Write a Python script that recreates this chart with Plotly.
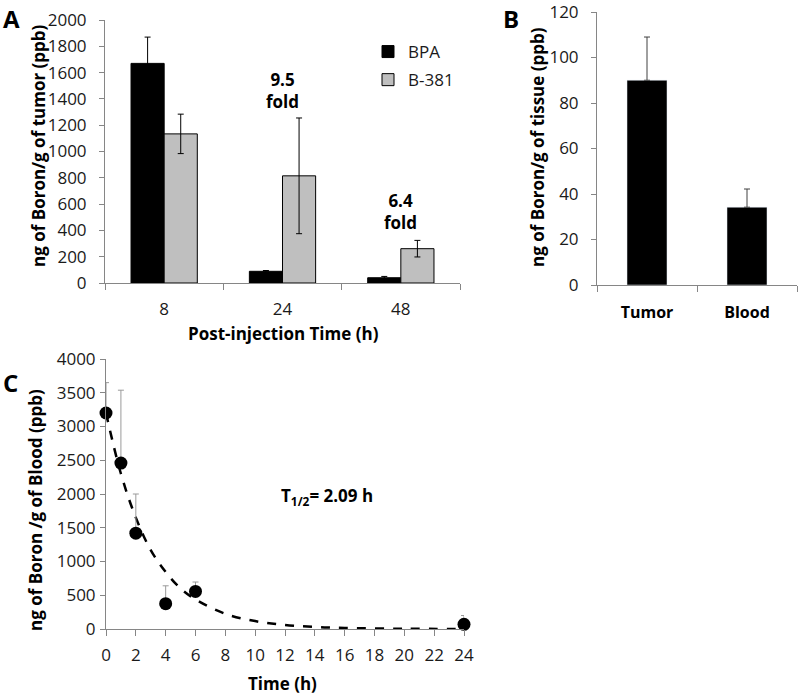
import plotly.graph_objects as go

# ---- Panel A data ----
a_times = ["8", "24", "48"]
a_bpa = [1670, 89, 40]
a_bpa_err = [200, 6, 10]
a_b381 = [1134, 815, 261]
a_b381_err = [150, 440, 63]
a_fold_labels = ["9.5<br>fold", "6.4<br>fold"]
a_fold_x = ["24", "48"]
a_fold_y = [1467, 540]

# ---- Panel B data ----
b_tissues = ["Tumor", "Blood"]
b_values = [90, 34.2]
b_err = [19, 8]

# ---- Panel C data ----
c_time = [0, 1, 2, 4, 6, 24]
c_values = [3200, 2458, 1420, 375, 556, 70]
c_err = [450, 1080, 580, 265, 140, 130]
fit_time = [0, 1, 2, 3, 4, 5, 6, 8, 10, 12, 14, 16, 20, 24]
fit_values = [3200, 2300, 1650, 1170, 845, 600, 438, 225, 117, 60, 30, 15, 4, 1]

FONT = "Open Sans"
AXC = "#868686"
W, H = 800, 694

def px_x(a, b):
    return [a / W, b / W]

def px_y(top, bottom):
    return [1 - bottom / H, 1 - top / H]

fig = go.Figure()

# Panel A bars
fig.add_trace(go.Bar(
    x=a_times, y=a_bpa, name="BPA", legendgroup="bpa",
    marker=dict(color="black", line=dict(color="black", width=1)),
    error_y=dict(type="data", array=a_bpa_err, color="black", thickness=1, width=3),
    xaxis="x", yaxis="y"))
fig.add_trace(go.Bar(
    x=a_times, y=a_b381, name="B-381", legendgroup="b381",
    marker=dict(color="#bfbfbf", line=dict(color="black", width=1)),
    error_y=dict(type="data", array=a_b381_err, color="black", thickness=1, width=3),
    xaxis="x", yaxis="y"))

# Panel B bars
fig.add_trace(go.Bar(
    x=b_tissues, y=b_values, showlegend=False, marker=dict(color="black"),
    error_y=dict(type="data", array=b_err, arrayminus=[0, 0], symmetric=False,
                 color="#404040", thickness=1, width=3),
    xaxis="x2", yaxis="y2", width=0.4))

# Panel C
fig.add_trace(go.Scatter(
    x=fit_time, y=fit_values, mode="lines", line=dict(color="black", width=2.5, dash="dash", shape="spline"),
    showlegend=False, xaxis="x3", yaxis="y3"))
fig.add_trace(go.Scatter(
    x=c_time, y=c_values, mode="markers", marker=dict(color="black", size=13),
    error_y=dict(type="data", array=c_err, arrayminus=[0] * len(c_err), symmetric=False,
                 color="#9a9a9a", thickness=1, width=3),
    showlegend=False, cliponaxis=False, xaxis="x3", yaxis="y3"))

tickfont = dict(family=FONT, size=17, color="#1a1a1a")
titlefont = dict(family=FONT, size=17, color="black", weight="bold")
notefont = dict(family=FONT, size=17, color="black", weight="bold")

common_y = dict(showline=True, linecolor=AXC, linewidth=1, ticks="outside", tickcolor=AXC, ticklen=5,
                showgrid=False, zeroline=False, tickfont=tickfont, automargin=False,
                ticklabeloverflow="allow")
common_x = dict(showline=True, linecolor=AXC, linewidth=1, ticks="outside", tickcolor=AXC, ticklen=6,
                showgrid=False, zeroline=False, automargin=False, ticklabeloverflow="allow")

fig.update_layout(
    width=W, height=H,
    margin=dict(l=0, r=0, t=0, b=0, pad=0, autoexpand=False),
    paper_bgcolor="white", plot_bgcolor="white",
    barmode="group", bargap=0.44, bargroupgap=0,
    font=dict(family=FONT),
    xaxis=dict(domain=px_x(105, 460), anchor="y", type="category", categoryorder="array",
               categoryarray=a_times, range=[-0.5, len(a_times) - 0.5], tickson="boundaries",
               tickfont=tickfont, ticklabelstandoff=11, **common_x),
    yaxis=dict(domain=px_y(20, 283), anchor="x", range=[0, 2000], dtick=200,
               ticklabelstandoff=9, **common_y),
    xaxis2=dict(domain=px_x(597, 797), anchor="y2", type="category", tickson="boundaries",
                range=[-0.5, len(b_tissues) - 0.5], ticklabelstandoff=13,
                tickfont=dict(family=FONT, size=16, color="black", weight="bold"), **common_x),
    yaxis2=dict(domain=px_y(12, 285), anchor="x2", range=[0, 120.0001], tickvals=[0, 20, 40, 60, 80, 100, 120],
                ticklabelstandoff=9, **common_y),
    xaxis3=dict(domain=px_x(106, 464), anchor="y3", range=[0, 24], dtick=2, tickfont=tickfont,
                ticklabelstandoff=5, **common_x),
    yaxis3=dict(domain=px_y(359, 629), anchor="x3", range=[0, 4000], dtick=500,
                ticklabelstandoff=1, **common_y),
    legend=dict(x=368 / W, y=1 - 34 / H, xanchor="left", yanchor="top", itemwidth=30,
                tracegroupgap=3,
                font=dict(family=FONT, size=17, color="#1a1a1a"), bgcolor="rgba(0,0,0,0)"),
)

# axis titles (placed in page pixels)
axis_titles = [
    ("ng of Boron/g of tumor (ppb)", 38, 146, -90),
    ("Post-injection Time (h)", 283, 333, 0),
    ("ng of Boron/g of tissue (ppb)", 537, 147, -90),
    ("ng of Boron /g of Blood (ppb)", 35, 510, -90),
    ("Time (h)", 282, 683, 0),
]
for txt, xp, yp, ang in axis_titles:
    fig.add_annotation(x=xp / W, y=1 - yp / H, xref="paper", yref="paper", text=txt,
                       textangle=ang, xanchor="center", yanchor="middle", showarrow=False,
                       font=titlefont)

for txt, xv, yv in zip(a_fold_labels, a_fold_x, a_fold_y):
    fig.add_annotation(x=a_times.index(xv), y=yv, xref="x", yref="y", text=txt, showarrow=False,
                       font=notefont)

fig.add_annotation(x=14.8, y=1970, xref="x3", yref="y3", text="T<sub>1/2</sub>= 2.09 h",
                   showarrow=False, font=notefont)

for lab, xp, yp in [("A", 1, 0), ("B", 501, 0), ("C", 1, 364)]:
    fig.add_annotation(x=xp / W, y=1 - yp / H, xref="paper", yref="paper", text=lab,
                       xanchor="left", yanchor="top", showarrow=False,
                       font=dict(family=FONT, size=24, color="black", weight="bold"))

fig.write_html("out.html", config={"displayModeBar": False},
               post_script="document.body.style.margin='0';document.body.style.overflow='hidden';")
